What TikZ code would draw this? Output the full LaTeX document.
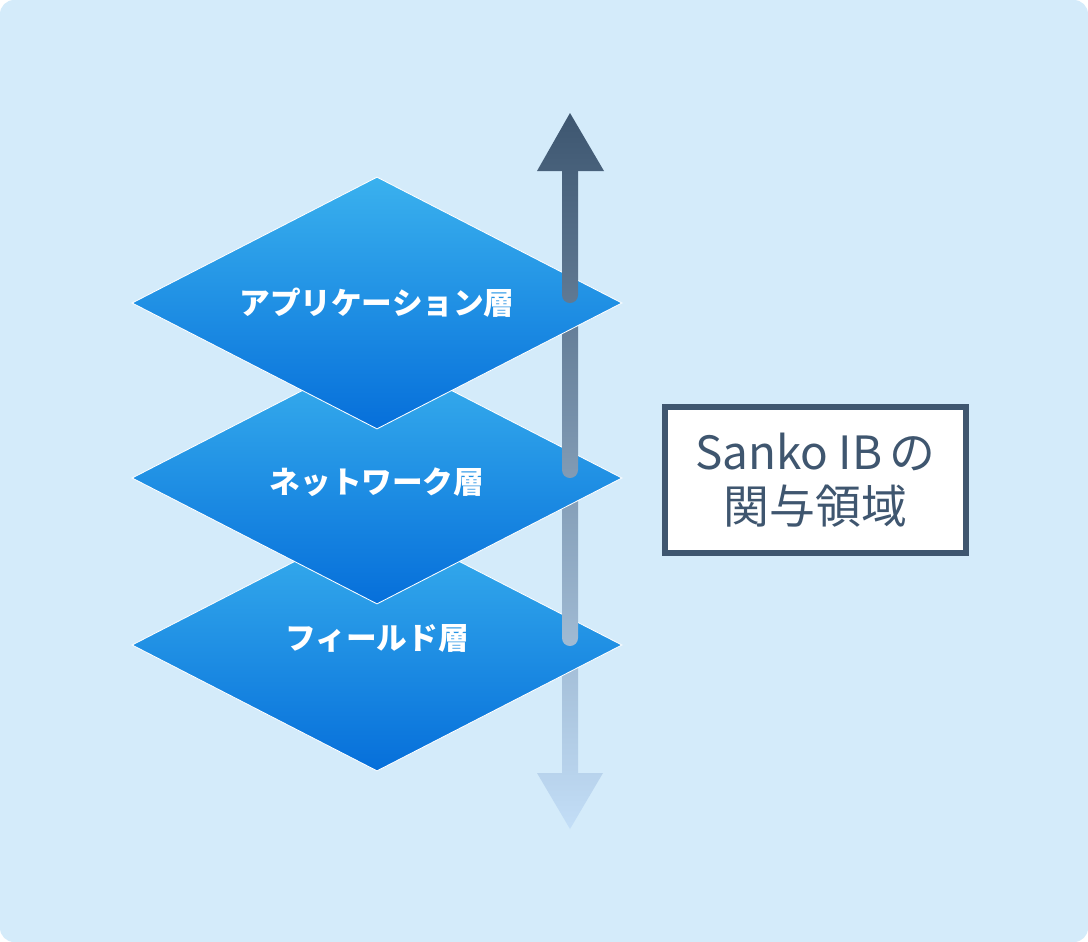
\documentclass[tikz,border=0pt]{standalone}
\usepackage{fontspec}
\newfontfamily\jpfont{Noto Sans CJK JP}
\usetikzlibrary{shapes.geometric}

\definecolor{bgblue}{HTML}{D4EBFA}
\definecolor{layertop}{HTML}{3AB1EE}
\definecolor{layerbot}{HTML}{066FDA}
\definecolor{arrdark}{HTML}{3D5670}
\definecolor{arrlight}{HTML}{C3DEF7}
\definecolor{boxline}{HTML}{3F566F}

\tikzset{
  layer/.style={diamond, aspect=2, inner sep=0pt, minimum width=12.25cm, minimum height=6.3cm,
    top color=layertop, bottom color=layerbot, draw=white, line width=0.6pt,
    text=white, font=\jpfont\bfseries\fontsize{21.8}{25}\selectfont},
  areabox/.style={draw=boxline, line width=4.3pt, fill=white, minimum width=7.525cm,
    minimum height=3.65cm, align=center, text=boxline,
    font=\jpfont\fontsize{32.6}{38.4}\selectfont},
}

\begin{document}
\begin{tikzpicture}[x=0.025cm, y=-0.025cm]

\useasboundingbox (0,0) rectangle (1088,942);
\fill[bgblue, rounded corners=10pt] (0,0) rectangle (1088,942);

\shade[top color=arrlight!75!arrdark, bottom color=arrlight!92!arrdark] (562,650) rectangle (578,774);
\shade[top color=arrlight!92!arrdark, bottom color=arrlight] (537,773) -- (603,773) -- (570,829) -- cycle;

\node[layer] (field) at (377,645) {\raisebox{4.3pt}[\height][\depth]{フィールド層}};
\shade[top color=arrlight!51!arrdark, bottom color=arrlight!74!arrdark] (562,480) -- (562,638) arc[start angle=180, end angle=0, radius=8] -- (578,480) -- cycle;

\node[layer] (net) at (377,478) {\raisebox{-2.8pt}[\height][\depth]{ネットワーク層}};
\shade[top color=arrlight!26!arrdark, bottom color=arrlight!51!arrdark] (562,300) -- (562,470) arc[start angle=180, end angle=0, radius=8] -- (578,300) -- cycle;

\node[layer] (app) at (377,303) {アプリケーション層};
\shade[top color=arrlight!8!arrdark, bottom color=arrlight!26!arrdark] (562,170) -- (562,295) arc[start angle=180, end angle=0, radius=8] -- (578,170) -- cycle;
\shade[top color=arrdark, bottom color=arrlight!8!arrdark] (537,171) -- (604,171) -- (570,113) -- cycle;

\node[areabox] (area) at (815.5,480) {Sanko IB\,の\\関与領域};

\end{tikzpicture}
\end{document}
